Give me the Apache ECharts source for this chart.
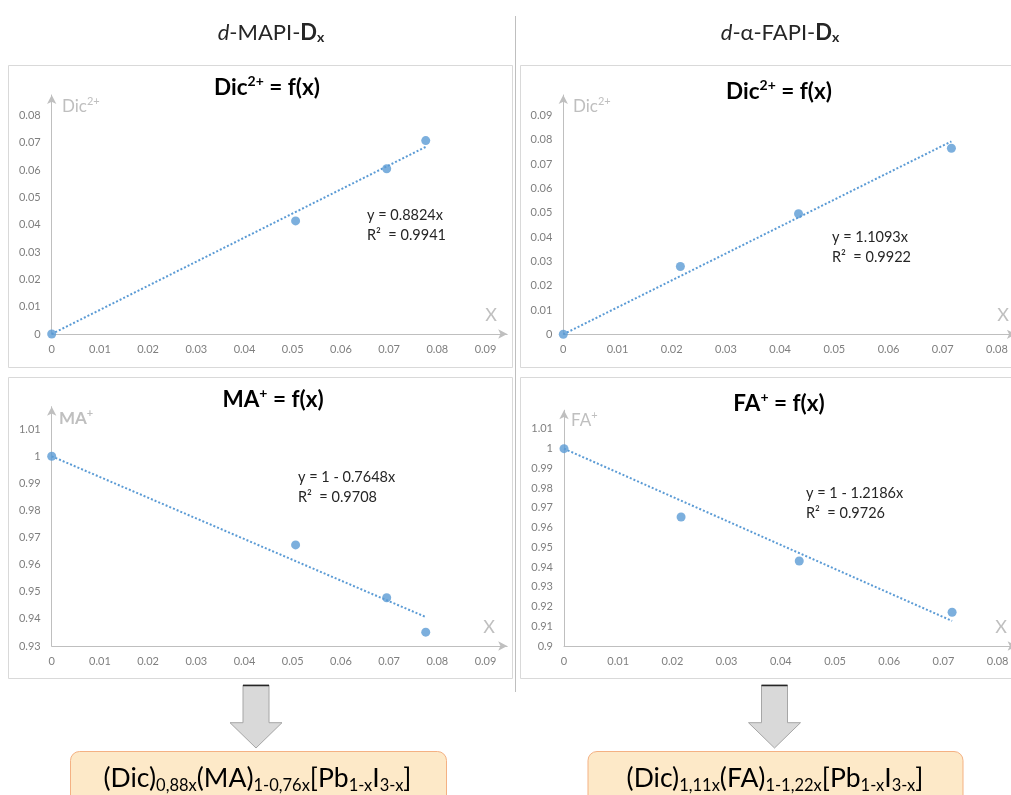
<!DOCTYPE html>
<html>
<head>
<meta charset="utf-8">
<script src="https://cdn.jsdelivr.net/npm/echarts@6/dist/echarts.min.js"></script>
<style>
  html, body { margin: 0; padding: 0; background: #ffffff; }
  #chart { width: 1011px; height: 795px; }
</style>
</head>
<body>
<div id="chart"></div>
<script>
// ---------- data ----------
const xMAPI   = [0, 0.0506, 0.0695, 0.0776];
const dicMAPI = [0, 0.0414, 0.0605, 0.0708];
const maMAPI  = [1, 0.9673, 0.9478, 0.9351];

const xFAPI   = [0, 0.0216, 0.0434, 0.0716];
const dicFAPI = [0, 0.0279, 0.0496, 0.0766];
const faFAPI  = [1, 0.9654, 0.9431, 0.9171];

// dotted trend-line end points as seen in the picture
const trendDicMAPI = [[0, 0], [0.0776, 0.0685]];
const trendMAMAPI  = [[0, 1], [0.0776, 0.9407]];
const trendDicFAPI = [[0, 0], [0.0716, 0.0794]];
const trendFAFAPI  = [[0, 1], [0.0716, 0.9127]];

const fitDicMAPI = ['y = 0.8824x', 'R\u00B2  = 0.9941'];
const fitMAMAPI  = ['y = 1 - 0.7648x', 'R\u00B2  = 0.9708'];
const fitDicFAPI = ['y = 1.1093x', 'R\u00B2  = 0.9922'];
const fitFAFAPI  = ['y = 1 - 1.2186x', 'R\u00B2  = 0.9726'];

const headers  = ['{i|d}{n|-MAPI-}{b|D}{s|x}', '{i|d}{n|-\u03B1-FAPI-}{b|D}{s|x}'];
const titles   = ['{b|Dic}{p|2+}{b| = f(x)}', '{b|Dic}{p|2+}{b| = f(x)}', '{b|MA}{p|+}{b| = f(x)}', '{b|FA}{p|+}{b| = f(x)}'];
const yNames   = ['{n|Dic}{p|2+}', '{n|Dic}{p|2+}', '{b|MA}{q|+}', '{n|FA}{p|+}'];
const formulas = [
  '{n|(Dic)}{s|0,88x}{n|(MA)}{s|1-0,76x}{n|[Pb}{s|1-x}{n|I}{s|3-x}{n|]}',
  '{n|(Dic)}{s|1,11x}{n|(FA)}{s|1-1,22x}{n|[Pb}{s|1-x}{n|I}{s|3-x}{n|]}'
];

// ---------- helpers ----------
const FONT = 'Lato, "Open Sans", sans-serif';
const BLUE = '#5b9bd5';
const zip = (xs, ys) => xs.map((x, i) => [x, ys[i]]);
const fmt = v => {
  const k = v * 100;
  if (Math.abs(k - Math.round(k)) > 1e-6) return '';
  return String(parseFloat(v.toFixed(2)));
};

// grid boxes (layout only)
const grids = [
  { left: 51.7,  top: 95,    width: 455.5, height: 239   },
  { left: 563.3, top: 95,    width: 452.6, height: 239.3 },
  { left: 51.7,  top: 406.7, width: 455.5, height: 239.3 },
  { left: 564,   top: 410.2, width: 452.6, height: 235.8 }
];
const xRanges = [[0, 0.0945], [0, 0.0835], [0, 0.0945], [0, 0.0835]];
const yRanges = [[0, 0.0875], [0, 0.0985], [0.93, 1.0183], [0.9, 1.0195]];

const axisLineStyle = {
  show: true,
  symbol: ['none', 'arrow'],
  symbolSize: [7, 9],
  lineStyle: { color: '#bfbfbf', width: 1 }
};
const labelStyle = { color: '#7f7f7f', fontSize: 11, fontFamily: FONT, margin: 10, formatter: fmt };

const xAxes = grids.map((g, i) => ({
  type: 'value', gridIndex: i, min: xRanges[i][0], max: xRanges[i][1], interval: 0.01,
  axisLine: axisLineStyle, axisTick: { show: false }, splitLine: { show: false },
  axisLabel: labelStyle
}));
const yAxes = grids.map((g, i) => ({
  type: 'value', gridIndex: i, min: yRanges[i][0], max: yRanges[i][1], interval: 0.01,
  axisLine: axisLineStyle, axisTick: { show: false }, splitLine: { show: false },
  axisLabel: Object.assign({}, labelStyle, { margin: 11 })
}));

const panels = [
  { x: xMAPI, y: dicMAPI, t: trendDicMAPI },
  { x: xFAPI, y: dicFAPI, t: trendDicFAPI },
  { x: xMAPI, y: maMAPI,  t: trendMAMAPI  },
  { x: xFAPI, y: faFAPI,  t: trendFAFAPI  }
];
const series = [];
panels.forEach((p, i) => {
  series.push({
    type: 'line', xAxisIndex: i, yAxisIndex: i, data: p.t, symbol: 'none', silent: true,
    lineStyle: { color: BLUE, width: 2, type: [2, 2] }, z: 2
  });
  series.push({
    type: 'scatter', xAxisIndex: i, yAxisIndex: i, data: zip(p.x, p.y),
    symbol: 'circle', symbolSize: 9, itemStyle: { color: BLUE }, z: 3
  });
});

// ---------- decorations ----------
const graphics = [];
// panel frames
[[8, 65, 504, 302], [520, 65, 520, 302], [8, 377, 504, 301], [520, 377, 520, 301]].forEach(r => {
  graphics.push({ type: 'rect', shape: { x: r[0] + 0.5, y: r[1] + 0.5, width: r[2], height: r[3] },
    style: { fill: null, stroke: '#d9d9d9', lineWidth: 1 }, z: 0 });
});
// separator
graphics.push({ type: 'line', shape: { x1: 515.5, y1: 16, x2: 515.5, y2: 692 },
  style: { stroke: '#bfbfbf', lineWidth: 1 } });

// headers
const headerRich = {
  i: { fontSize: 22, fontStyle: 'italic', fontFamily: FONT, color: '#262626' },
  n: { fontSize: 22, fontFamily: FONT, color: '#262626' },
  b: { fontSize: 22, fontWeight: 'bold', fontFamily: FONT, color: '#262626' },
  s: { fontSize: 14, fontWeight: 'bold', fontFamily: FONT, color: '#262626', verticalAlign: 'bottom' }
};
[[271, 33], [780, 33]].forEach((pos, i) => {
  graphics.push({ type: 'text', x: pos[0], y: pos[1],
    style: { text: headers[i], rich: headerRich, align: 'center', verticalAlign: 'middle', fill: '#262626' } });
});

// chart titles
const titleRich = {
  b: { fontSize: 22.5, fontWeight: 'bold', fontFamily: FONT, color: '#000000', lineHeight: 28 },
  p: { fontSize: 14, fontWeight: 'bold', fontFamily: FONT, color: '#000000', verticalAlign: 'top' }
};
[[267, 88], [779, 92], [273, 400], [779, 404]].forEach((pos, i) => {
  graphics.push({ type: 'text', x: pos[0], y: pos[1],
    style: { text: titles[i], rich: titleRich, align: 'center', verticalAlign: 'middle', fill: '#000' } });
});

// axis names
const nameRich = {
  n: { fontSize: 17, fontFamily: FONT, color: '#bfbfbf', lineHeight: 22 },
  b: { fontSize: 17, fontWeight: 'bold', fontFamily: FONT, color: '#bfbfbf', lineHeight: 22 },
  p: { fontSize: 11, fontFamily: FONT, color: '#bfbfbf', verticalAlign: 'top' },
  q: { fontSize: 11, fontWeight: 'bold', fontFamily: FONT, color: '#bfbfbf', verticalAlign: 'top' }
};
[[62, 107], [573, 107], [59, 419], [571, 421]].forEach((pos, i) => {
  graphics.push({ type: 'text', x: pos[0], y: pos[1],
    style: { text: yNames[i], rich: nameRich, align: 'left', verticalAlign: 'middle', fill: '#bfbfbf' } });
});
[[491, 315], [1003, 315], [489, 627], [1001, 627]].forEach(pos => {
  graphics.push({ type: 'text', x: pos[0], y: pos[1],
    style: { text: 'X', fontSize: 18, fontFamily: FONT, fill: '#bfbfbf', align: 'center', verticalAlign: 'middle' } });
});

// fit annotations
[[fitDicMAPI, 367, 215], [fitDicFAPI, 832, 237], [fitMAMAPI, 298, 477], [fitFAFAPI, 806, 493]].forEach(a => {
  a[0].forEach((line, k) => {
    graphics.push({ type: 'text', x: a[1], y: a[2] + k * 20,
      style: { text: line, fontSize: 14.5, fontFamily: FONT, fill: '#262626', align: 'left', verticalAlign: 'middle' } });
  });
});

// arrows
[256, 774.5].forEach(cx => {
  const sw = 13, hw = 26, top = 685, hb = 722.7, tip = 748;
  graphics.push({ type: 'polygon',
    shape: { points: [[cx - sw, top], [cx + sw, top], [cx + sw, hb], [cx + hw, hb], [cx, tip], [cx - hw, hb], [cx - sw, hb]] },
    style: { fill: '#d9d9d9', stroke: '#a6a6a6', lineWidth: 1 } });
  graphics.push({ type: 'line', shape: { x1: cx - sw, y1: top + 0.5, x2: cx + sw, y2: top + 0.5 },
    style: { stroke: '#262626', lineWidth: 1.5 } });
});

// formula boxes
const formulaRich = {
  n: { fontSize: 26.5, fontFamily: FONT, color: '#000000', lineHeight: 32 },
  s: { fontSize: 16.5, fontFamily: FONT, color: '#000000', verticalAlign: 'bottom', lineHeight: 18 }
};
[[70, 376, 257.5], [587.5, 375, 775]].forEach((b, i) => {
  graphics.push({ type: 'rect', shape: { x: b[0] + 0.5, y: 751.5, width: b[1], height: 70, r: 9 },
    style: { fill: '#fde9c8', stroke: '#f4b183', lineWidth: 1 } });
  graphics.push({ type: 'text', x: b[2], y: 778,
    style: { text: formulas[i], rich: formulaRich, align: 'center', verticalAlign: 'middle', fill: '#000' } });
});

const chart = echarts.init(document.getElementById('chart'), null, { renderer: 'canvas' });
chart.setOption({
  backgroundColor: '#ffffff',
  animation: false,
  textStyle: { fontFamily: FONT },
  grid: grids.map(g => Object.assign({ outerBoundsMode: 'none', containLabel: false }, g)),
  xAxis: xAxes,
  yAxis: yAxes,
  series: series,
  graphic: { elements: graphics }
});
</script>
</body>
</html>
